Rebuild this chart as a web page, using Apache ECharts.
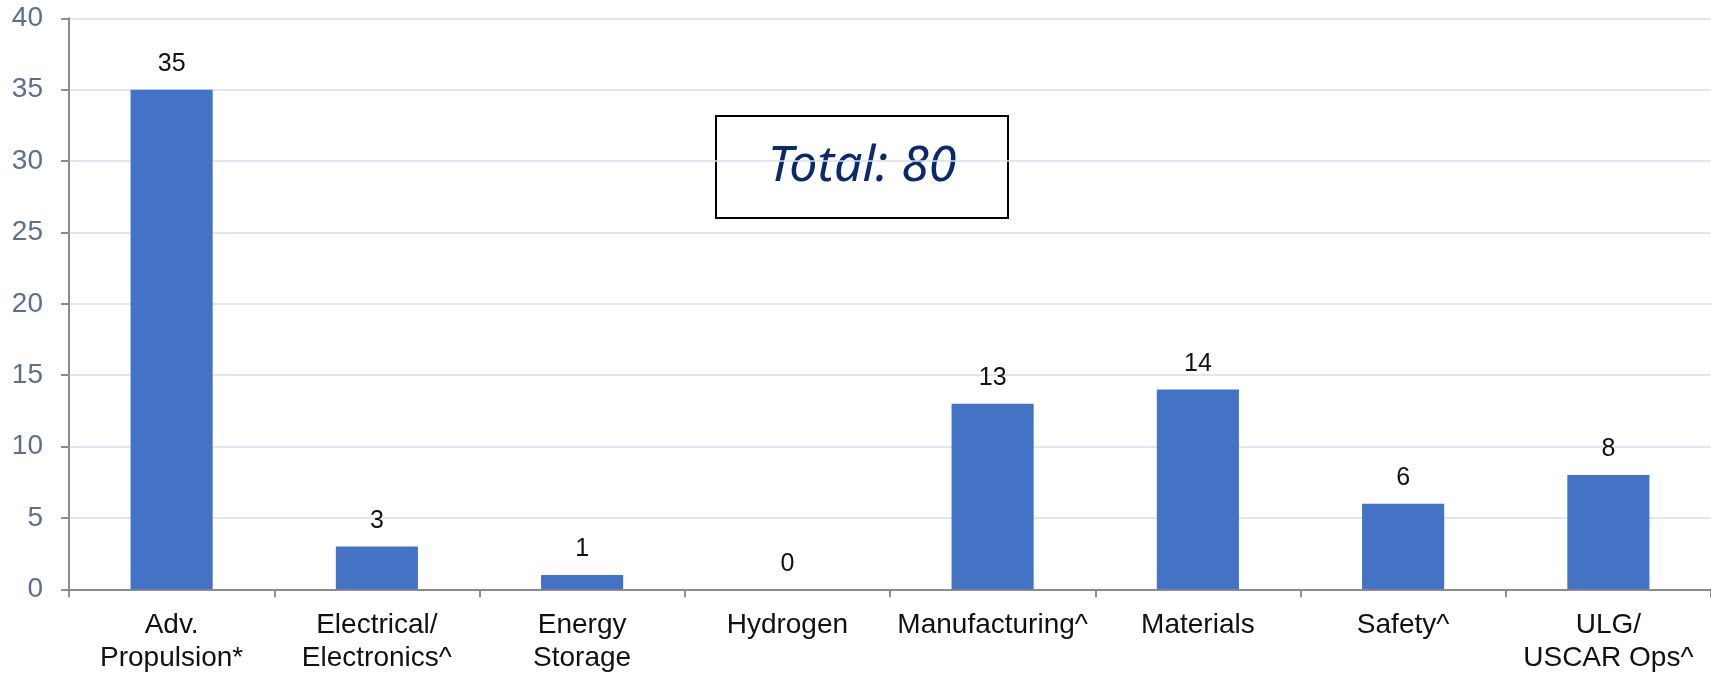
<!DOCTYPE html>
<html>
<head>
<meta charset="utf-8">
<script src="https://cdn.jsdelivr.net/npm/echarts@6/dist/echarts.min.js"></script>
<style>html,body{margin:0;padding:0;background:#fff}#c{width:1711px;height:674px}</style>
</head>
<body>
<div id="c"></div>
<script>
const categories = ['Adv.\nPropulsion*', 'Electrical/\nElectronics^', 'Energy\nStorage', 'Hydrogen', 'Manufacturing^', 'Materials', 'Safety^', 'ULG/\nUSCAR Ops^'];
const values = [35, 3, 1, 0, 13, 14, 6, 8];
const totalText = 'Total: 80';

const chart = echarts.init(document.getElementById('c'));
chart.setOption({
  animation: false,
  grid: { left: 69, right: 0, top: 18.3, bottom: 84.7, containLabel: false, outerBoundsMode: 'none' },
  xAxis: {
    type: 'category',
    data: categories,
    axisLine: { show: true, lineStyle: { color: '#8c8c8c', width: 2 } },
    axisTick: { show: true, alignWithLabel: false, length: 8, lineStyle: { color: '#8c8c8c', width: 2 } },
    axisLabel: { color: '#111', fontFamily: 'Liberation Sans', fontSize: 28, lineHeight: 33, margin: 19.5, interval: 0 }
  },
  yAxis: {
    type: 'value',
    min: 0, max: 40, interval: 5,
    axisLine: { show: true, lineStyle: { color: '#8c8c8c', width: 2 } },
    axisTick: { show: true, length: 8, lineStyle: { color: '#8c8c8c', width: 2 } },
    axisLabel: { color: '#5b6f8f', fontFamily: 'Liberation Sans', fontSize: 28, margin: 26 },
    splitLine: { show: true, lineStyle: { color: '#d6dfea', width: 1.5 } }
  },
  series: [{
    type: 'bar',
    data: values,
    barWidth: '40%',
    itemStyle: { color: '#4472c4' },
    label: { show: true, position: 'top', distance: 13, color: '#111', fontFamily: 'Liberation Sans', fontSize: 25 }
  }],
  graphic: [{
    type: 'group',
    left: 715, top: 115,
    children: [
      { type: 'rect', shape: { x: 0, y: 0, width: 292, height: 102 }, style: { fill: '#fff', stroke: '#000', lineWidth: 2 } },
      { type: 'text', x: 146, y: 51, style: { text: totalText, fill: '#0b2a6b', font: 'italic 50px "Noto Sans", "Open Sans", sans-serif', textAlign: 'center', textVerticalAlign: 'middle' } }
    ]
  }]
});
</script>
</body>
</html>
